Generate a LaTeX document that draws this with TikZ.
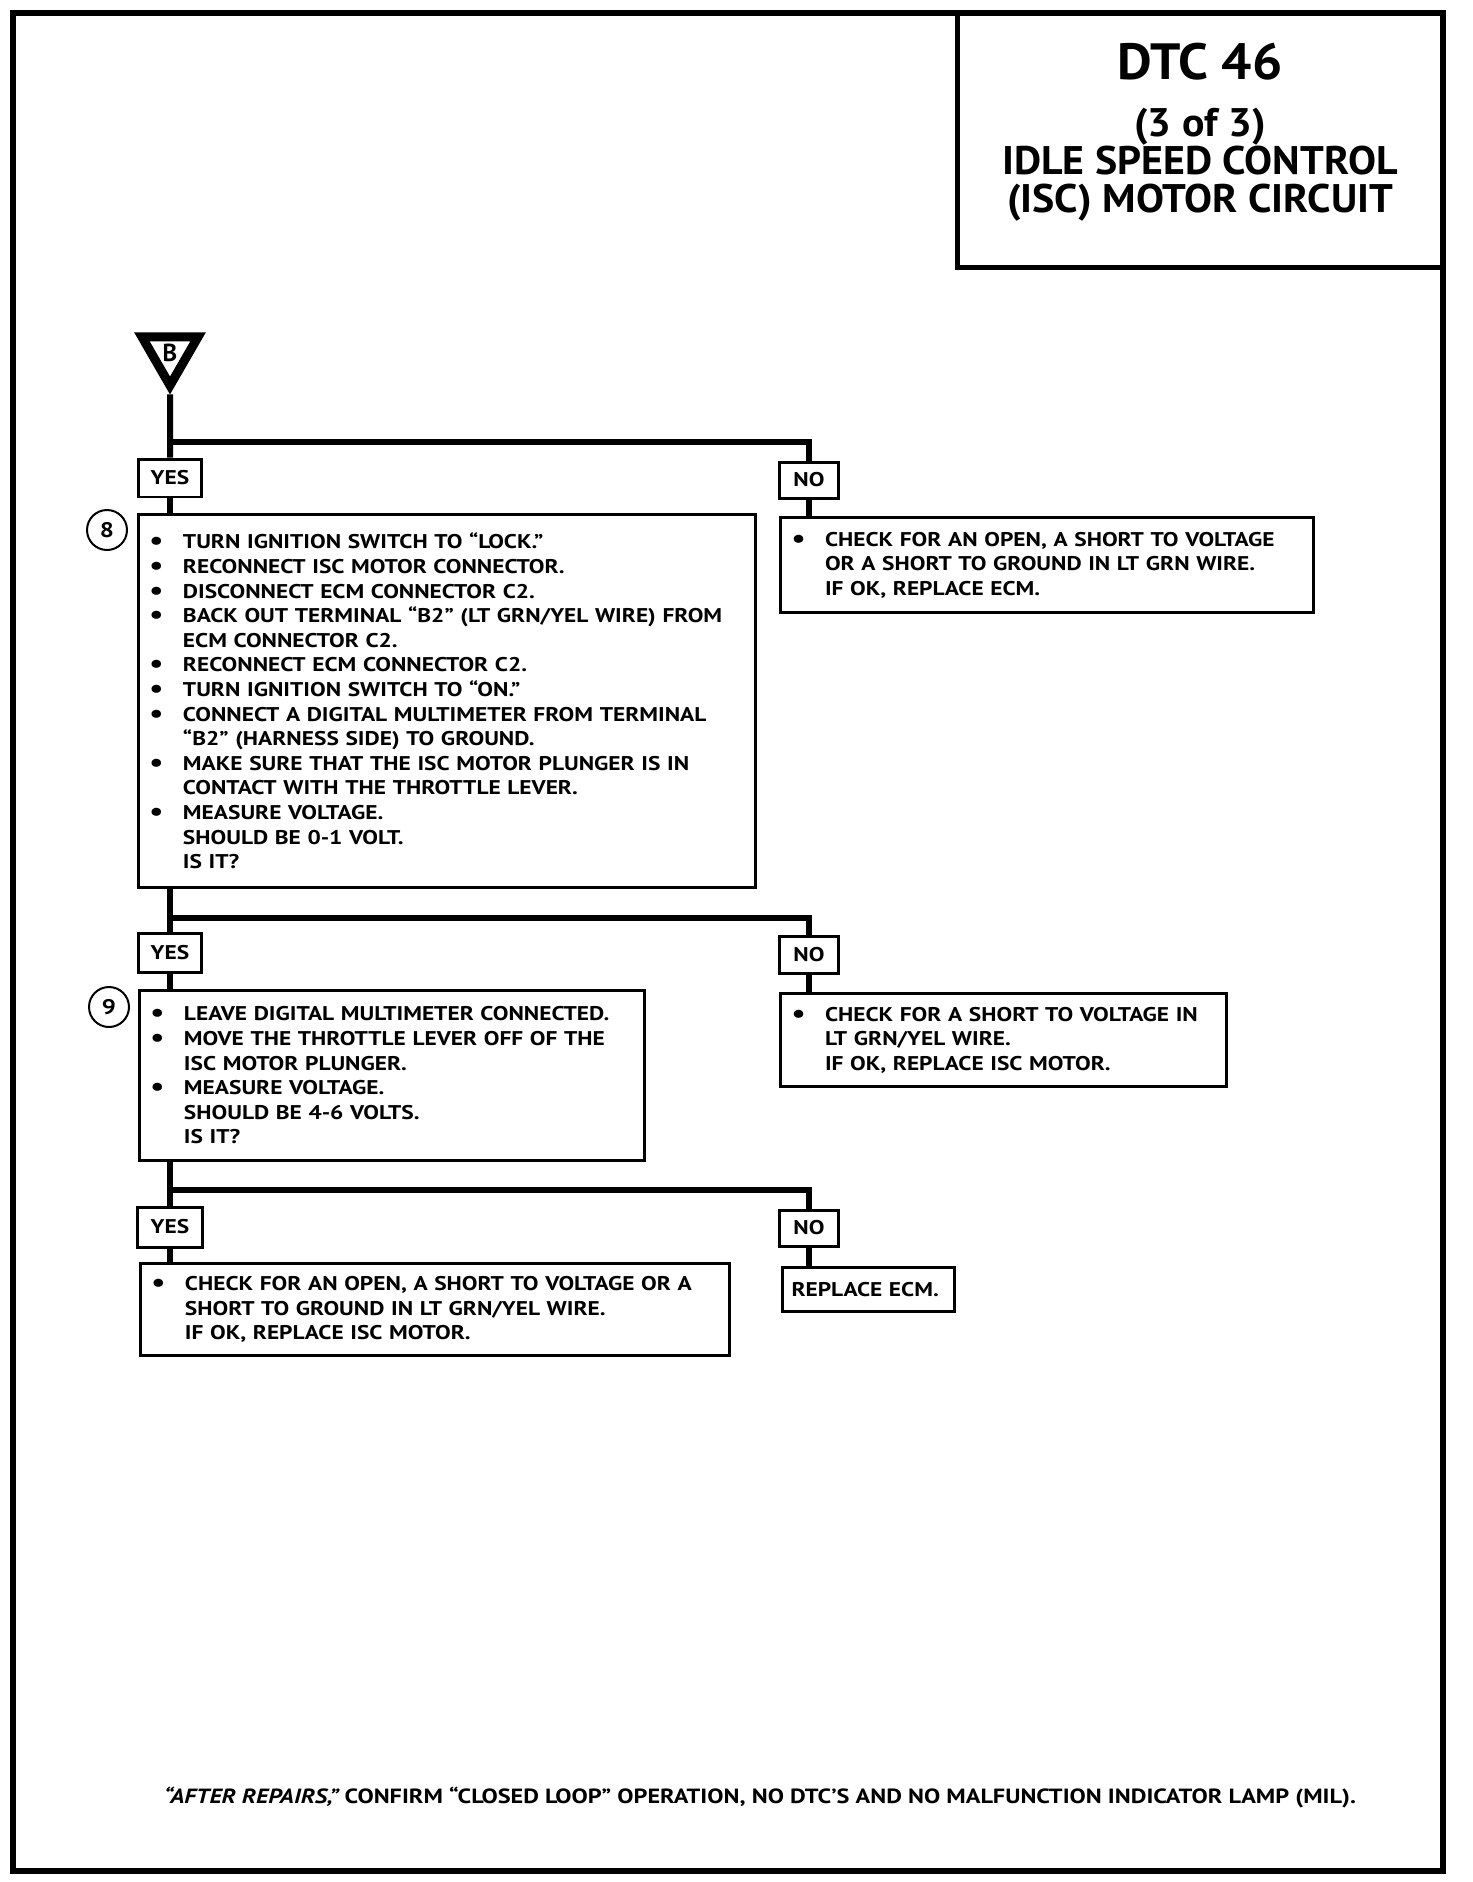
\documentclass[tikz,border=0pt]{standalone}
\usepackage{fontspec}
\setmainfont{PT Sans}
\newfontfamily\bodyfam{PT Sans}[FakeStretch=1.18]
\newfontfamily\titlefam{PT Sans}[FakeStretch=1.05]
\usetikzlibrary{shapes.geometric}
\newcommand{\bodyfont}{\bodyfam\fontsize{11.3}{14}\selectfont\bfseries}
\newcommand{\bul}{\makebox[0.67cm][l]{\raisebox{-0.02cm}{\fontsize{15}{14}\selectfont\textbullet}}}
\newcommand{\contline}{\hspace*{0.67cm}}
\begin{document}
\begin{tikzpicture}[x=0.02cm,y=-0.02cm,
  flow/.style={line width=0.12cm},
  stepbox/.style={draw, line width=0.06cm, anchor=north west, inner xsep=0.22cm, inner ysep=0pt, align=left, font=\bodyfont},
  answer/.style={draw, line width=0.06cm, inner sep=0pt, font=\bodyfont},
  stepnum/.style={draw, circle, line width=0.04cm, minimum size=0.8cm, inner sep=0pt, font=\bodyfam\fontsize{12}{14}\selectfont\bfseries}]
\useasboundingbox (0,0) rectangle (1472,1882);
% page frame and title block
\draw[line width=0.12cm] (13,13) rectangle (1443,1871);
\draw[line width=0.1cm] (957,13) |- (1443,267);
\node[anchor=north, align=center, inner sep=0pt, font=\titlefam\fontsize{22.7}{21.5}\selectfont\bfseries] (title) at (1200,43) {{\fontsize{29}{21.5}\selectfont DTC 46}\\[11pt] (3 of 3)\\ IDLE SPEED CONTROL\\ (ISC) MOTOR CIRCUIT};
% entry point B
\node[regular polygon, regular polygon sides=3, shape border rotate=180, draw, line width=0.18cm, minimum size=1.3cm, inner sep=0pt, font=\fontsize{14}{14}\selectfont\bfseries] (markB) at (170,353) {B};
% step 8
\node[answer, minimum width=1.28cm, minimum height=0.76cm] (yes1) at (170,478) {YES};
\node[answer, minimum width=1.18cm, minimum height=0.72cm] (no1) at (809,480) {NO};
\node[stepnum] (num8) at (107,530) {8};
\node[stepbox, text width=11.9cm, minimum height=7.46cm] (step8) at (137,513) {\bul TURN IGNITION SWITCH TO “LOCK.”\\
\bul RECONNECT ISC MOTOR CONNECTOR.\\
\bul DISCONNECT ECM CONNECTOR C2.\\
\bul BACK OUT TERMINAL “B2” (LT GRN/YEL WIRE) FROM\\
\contline ECM CONNECTOR C2.\\
\bul RECONNECT ECM CONNECTOR C2.\\
\bul TURN IGNITION SWITCH TO “ON.”\\
\bul CONNECT A DIGITAL MULTIMETER FROM TERMINAL\\
\contline “B2” (HARNESS SIDE) TO GROUND.\\
\bul MAKE SURE THAT THE ISC MOTOR PLUNGER IS IN\\
\contline CONTACT WITH THE THROTTLE LEVER.\\
\bul MEASURE VOLTAGE.\\
\contline SHOULD BE 0-1 VOLT.\\
\contline IS IT?};
\node[stepbox, text width=10.22cm, minimum height=1.9cm] (noA) at (779,516) {\bul CHECK FOR AN OPEN, A SHORT TO VOLTAGE\\
\contline OR A SHORT TO GROUND IN LT GRN WIRE.\\
\contline IF OK, REPLACE ECM.};
\coordinate (split1) at (170,442);
\draw[flow] (markB.south) -- (yes1.north);
\draw[flow] (split1) -| (no1.north);
\draw[flow] (yes1.south) -- (yes1.south |- step8.north);
\draw[flow] (no1.south) -- (no1.south |- noA.north);
% step 9
\node[answer, minimum width=1.28cm, minimum height=0.78cm] (yes2) at (170,953) {YES};
\node[answer, minimum width=1.18cm, minimum height=0.74cm] (no2) at (809,955) {NO};
\node[stepnum] (num9) at (109,1007) {9};
\node[stepbox, text width=9.66cm, minimum height=3.4cm] (step9) at (138,989) {\bul LEAVE DIGITAL MULTIMETER CONNECTED.\\
\bul MOVE THE THROTTLE LEVER OFF OF THE\\
\contline ISC MOTOR PLUNGER.\\
\bul MEASURE VOLTAGE.\\
\contline SHOULD BE 4-6 VOLTS.\\
\contline IS IT?};
\node[stepbox, text width=8.48cm, minimum height=1.86cm] (noB) at (779,992) {\bul CHECK FOR A SHORT TO VOLTAGE IN\\
\contline LT GRN/YEL WIRE.\\
\contline IF OK, REPLACE ISC MOTOR.};
\coordinate (split2) at (170,918);
\draw[flow] (yes2.north |- step8.south) -- (yes2.north);
\draw[flow] (split2) -| (no2.north);
\draw[flow] (yes2.south) -- (yes2.south |- step9.north);
\draw[flow] (no2.south) -- (no2.south |- noB.north);
% results of step 9
\node[answer, minimum width=1.3cm, minimum height=0.8cm] (yes3) at (170,1227) {YES};
\node[answer, minimum width=1.18cm, minimum height=0.72cm] (no3) at (809,1228) {NO};
\node[stepbox, text width=11.34cm, minimum height=1.84cm] (fixA) at (139,1262) {\bul CHECK FOR AN OPEN, A SHORT TO VOLTAGE OR A\\
\contline SHORT TO GROUND IN LT GRN/YEL WIRE.\\
\contline IF OK, REPLACE ISC MOTOR.};
\node[stepbox, inner xsep=0.18cm, text width=3.08cm, minimum height=0.88cm] (fixB) at (781,1266) {REPLACE ECM.};
\coordinate (split3) at (170,1190);
\draw[flow] (yes3.north |- step9.south) -- (yes3.north);
\draw[flow] (split3) -| (no3.north);
\draw[flow] (yes3.south) -- (yes3.south |- fixA.north);
\draw[flow] (no3.south) -- (no3.south |- fixB.north);
% footer
\node[anchor=base, inner sep=0pt, font=\bodyfam\fontsize{11.7}{14}\selectfont\bfseries] (note) at (760,1803) {{\itshape “AFTER REPAIRS,”} CONFIRM “CLOSED LOOP” OPERATION, NO DTC’S AND NO MALFUNCTION INDICATOR LAMP (MIL).};
\end{tikzpicture}
\end{document}
